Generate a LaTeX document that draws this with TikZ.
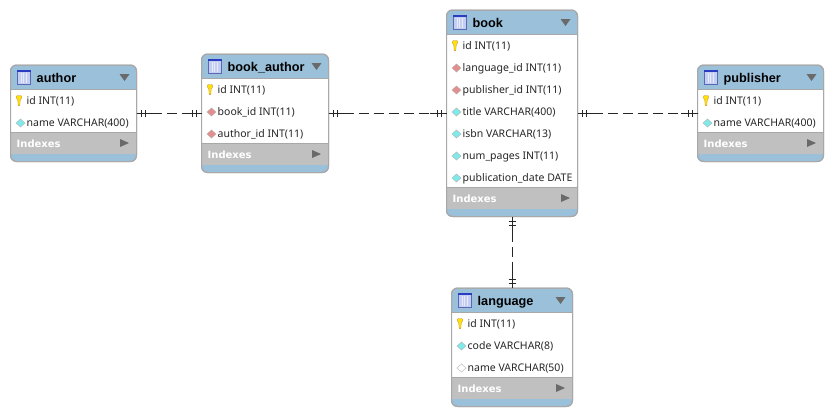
\documentclass[tikz,border=0pt]{standalone}
\usepackage{fontspec}
\setmainfont{Noto Sans}
\newfontfamily\ertitlefont{Liberation Sans}
\newfontfamily\eridxfont{DejaVu Sans}
\usetikzlibrary{decorations.markings}
\definecolor{hdr}{HTML}{9AC0DA}
\definecolor{edge}{HTML}{A8A8A8}
\definecolor{idx}{HTML}{C0C0C0}
\definecolor{tri}{HTML}{6A6A6A}
\definecolor{fkc}{HTML}{E48E8E}
\definecolor{colc}{HTML}{80EAEA}
\definecolor{icofill}{HTML}{C4CEF0}
\definecolor{icocol}{HTML}{E6EAFA}
\definecolor{icoedge}{HTML}{5A68B8}
\definecolor{icotop}{HTML}{2A3CC0}
\tikzset{
  tablebox/.style={draw=edge,line width=1pt,rounded corners=6pt,inner sep=0pt,outer sep=0pt},
  rowtext/.style={font=\fontsize{10.5}{12}\selectfont,text=black!85,inner sep=0pt,anchor=base west},
  titletext/.style={font=\ertitlefont\fontsize{12.7}{15}\selectfont\bfseries,text=black,inner sep=0pt,anchor=base west},
  idxtext/.style={font=\eridxfont\fontsize{10}{13}\selectfont\bfseries,text=white,inner sep=0pt,anchor=base west},
  erlink/.style={line width=0.9pt,draw=black!85,dash pattern=on 10pt off 5pt,
    postaction={decorate,decoration={markings,
      mark=at position 5pt with {\draw[solid,line width=0.9pt] (-5pt,0pt)--(12pt,0pt);
        \draw[solid,line width=0.9pt] (0pt,-3.5pt)--(0pt,3.5pt) (4pt,-3.5pt)--(4pt,3.5pt);},
      mark=at position -5pt with {\draw[solid,line width=0.9pt] (5pt,0pt)--(-12pt,0pt);
        \draw[solid,line width=0.9pt] (0pt,-3.5pt)--(0pt,3.5pt) (-4pt,-3.5pt)--(-4pt,3.5pt);}}}},
}
% row icons, drawn around (#1,#2)
\newcommand{\iconP}[2]{%
  \fill[yellow!85!orange,draw=orange!70!black!70,line width=0.3pt]
    (#1-1.6,#2-5.5) .. controls (#1-3.2,#2-5.5) and (#1-3.2,#2-1.5) .. (#1-1.2,#2-0.8)
    -- (#1-0.8,#2+4.8) -- (#1+0.8,#2+4.8) -- (#1+1.2,#2-0.8)
    .. controls (#1+3.2,#2-1.5) and (#1+3.2,#2-5.5) .. (#1+1.6,#2-5.5) -- cycle;}
\newcommand{\iconD}[3]{%
  \filldraw[fill=#3,draw=black!30,line width=0.4pt]
    (#1-4.5,#2) -- (#1,#2-4) -- (#1+4.5,#2) -- (#1,#2+4) -- cycle;}
\newcommand{\icon}[3]{%
  \if#1P\iconP{#2-1.5}{#3}\fi
  \if#1F\iconD{#2}{#3}{fkc}\fi
  \if#1C\iconD{#2}{#3}{colc}\fi
  \if#1N\iconD{#2}{#3}{white}\fi}
% \ertable{name}{left}{top}{right}{nrows}{title}{rows}
\newcommand{\ertable}[7]{%
  \pgfmathsetmacro{\ertH}{96.5+22*(#5-2)}
  \pgfmathsetmacro{\ertW}{#4-#2}
  \pgfmathsetmacro{\ertCx}{(#2+#4)/2}
  \pgfmathsetmacro{\ertCy}{#3+\ertH/2}
  \pgfmathsetmacro{\ertB}{#3+\ertH}
  \node[tablebox,fill=hdr,minimum width=\ertW pt,minimum height=\ertH pt] (#1) at (\ertCx,\ertCy) {};
  \fill[white] (#2,#3+24.5) rectangle (#4,\ertB-29);
  \fill[idx] (#2,\ertB-29) rectangle (#4,\ertB-8);
  \draw[edge,line width=0.8pt] (#2,#3+24.5) -- (#4,#3+24.5);
  \draw[edge,line width=0.8pt] (#2,\ertB-29) -- (#4,\ertB-29);
  \draw[edge,line width=1pt,rounded corners=6pt] (#2,#3) rectangle (#4,\ertB);
  % table icon
  \fill[icofill] (#2+6.5,#3+6) rectangle (#2+20,#3+19);
  \draw[icocol,line width=0.8pt] (#2+10.5,#3+8) -- (#2+10.5,#3+18) (#2+13.3,#3+8) -- (#2+13.3,#3+18) (#2+16.1,#3+8) -- (#2+16.1,#3+18);
  \draw[icoedge,line width=0.7pt] (#2+6.5,#3+6) rectangle (#2+20,#3+19);
  \draw[icotop,line width=1.3pt] (#2+6.5,#3+6) -- (#2+20,#3+6);
  \node[titletext] (#1-title) at (#2+26,#3+17.8) {#6};
  \fill[tri] (#4-17,#3+9) -- (#4-7,#3+9) -- (#4-12,#3+16) -- cycle;
  \foreach \k/\t [count=\i from 0] in {#7}{
    \pgfmathsetmacro{\ry}{#3+36+22*\i}
    \icon{\k}{#2+10}{\ry}
    \node[rowtext] (#1-r\i) at (#2+16,\ry+3.7) {\t};
  }
  \node[idxtext] (#1-idx) at (#2+6,\ertB-14.5) {Indexes};
  \fill[tri] (#4-16.5,\ertB-22.5) -- (#4-7.5,\ertB-18.5) -- (#4-16.5,\ertB-14.5) -- cycle;
}
\begin{document}
\begin{tikzpicture}[x=1pt,y=-1pt]
\useasboundingbox (0,0) rectangle (833,416);
\ertable{author}{10.5}{65}{136.5}{2}{author}{P/id INT(11),C/name VARCHAR(400)}
\ertable{bookauthor}{201.5}{54}{328.5}{3}{book\_author}{P/id INT(11),F/book\_id INT(11),F/author\_id INT(11)}
\ertable{book}{446.5}{10}{577.5}{7}{book}{P/id INT(11),F/language\_id INT(11),F/publisher\_id INT(11),C/title VARCHAR(400),C/isbn VARCHAR(13),C/num\_pages INT(11),C/publication\_date DATE}
\ertable{publisher}{697.5}{65}{823.5}{2}{publisher}{P/id INT(11),C/name VARCHAR(400)}
\ertable{language}{451.5}{288}{572.5}{3}{language}{P/id INT(11),C/code VARCHAR(8),N/name VARCHAR(50)}
\draw[erlink] (author.east) -- (bookauthor.west);
\draw[erlink] (bookauthor.east) -- (book.west);
\draw[erlink] (book.east) -- (publisher.west);
\draw[erlink] (book.south) -- (language.north);
\end{tikzpicture}
\end{document}
